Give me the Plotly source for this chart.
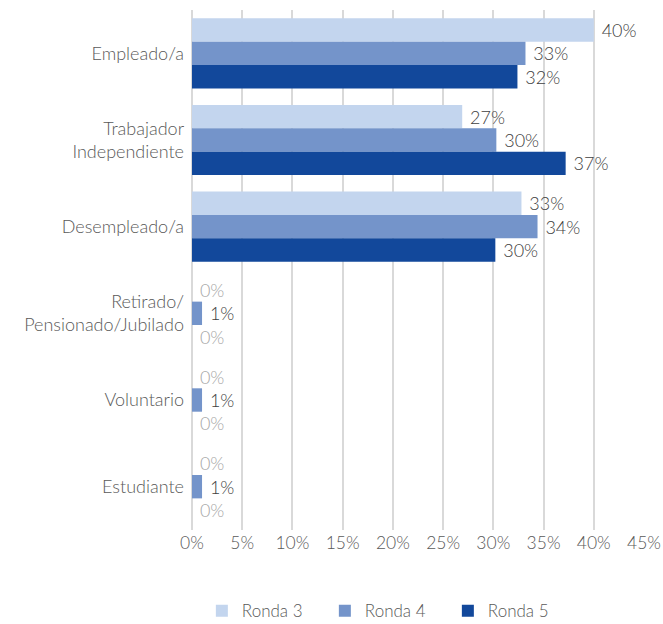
import plotly.graph_objects as go

categories = ["Empleado/a", "Trabajador<br>Independiente", "Desempleado/a",
              "Retirado/<br>Pensionado/Jubilado", "Voluntario", "Estudiante"]
series_names = ["Ronda 3", "Ronda 4", "Ronda 5"]
ronda3 = [40.0, 26.9, 32.8, 0.0, 0.0, 0.0]
ronda4 = [33.2, 30.3, 34.4, 1.0, 1.0, 1.0]
ronda5 = [32.4, 37.2, 30.2, 0.0, 0.0, 0.0]
colors = ["#C3D5EE", "#7494CA", "#12489B"]
x_ticks = [0, 5, 10, 15, 20, 25, 30, 35, 40, 45]

FONT = "Lato, 'Open Sans', sans-serif"
FS = 18

fig = go.Figure()
for name, vals, col in zip(series_names, [ronda3, ronda4, ronda5], colors):
    fig.add_trace(go.Bar(
        y=categories, x=vals, name=name, orientation="h",
        marker=dict(color=col, line=dict(width=0)),
        text=[f"\u00a0{round(v):.0f}%" for v in vals],
        textposition="outside",
        textfont=dict(size=FS, family=FONT, weight=300,
                      color=["#A6A6A6" if round(v) == 0 else "#404040" for v in vals]),
        cliponaxis=False,
    ))

fig.update_layout(
    width=663, height=624,
    margin=dict(l=192, r=19, t=10, b=94, autoexpand=False),
    barmode="group", bargap=0.19, bargroupgap=0,
    plot_bgcolor="white", paper_bgcolor="white",
    font=dict(family=FONT, size=FS, color="#595959", weight=300),
    xaxis=dict(range=[0, 45], tickvals=x_ticks, ticktext=[f"{t}%" for t in x_ticks],
               showgrid=True, gridcolor="#D9D9D9", gridwidth=1.5,
               zeroline=True, zerolinecolor="#D9D9D9", zerolinewidth=1.5,
               showline=False, ticks="", automargin=False,
               tickfont=dict(size=17.5, color="#595959", weight=300)),
    yaxis=dict(autorange="reversed", showgrid=False, ticks="", showline=False,
               automargin=False, ticklabelstandoff=7,
               tickfont=dict(size=FS, color="#595959", weight=300)),
    legend=dict(orientation="h", x=0.43, xanchor="center", xref="paper",
                y=-0.156, yanchor="middle", traceorder="normal",
                entrywidth=78, entrywidthmode="pixels",
                font=dict(size=17, color="#595959", weight=300), itemwidth=30),
    showlegend=True,
)

fig.write_html(
    "out.html",
    config={"displayModeBar": False},
    post_script="document.body.style.margin='0';document.body.style.overflow='hidden';",
)
